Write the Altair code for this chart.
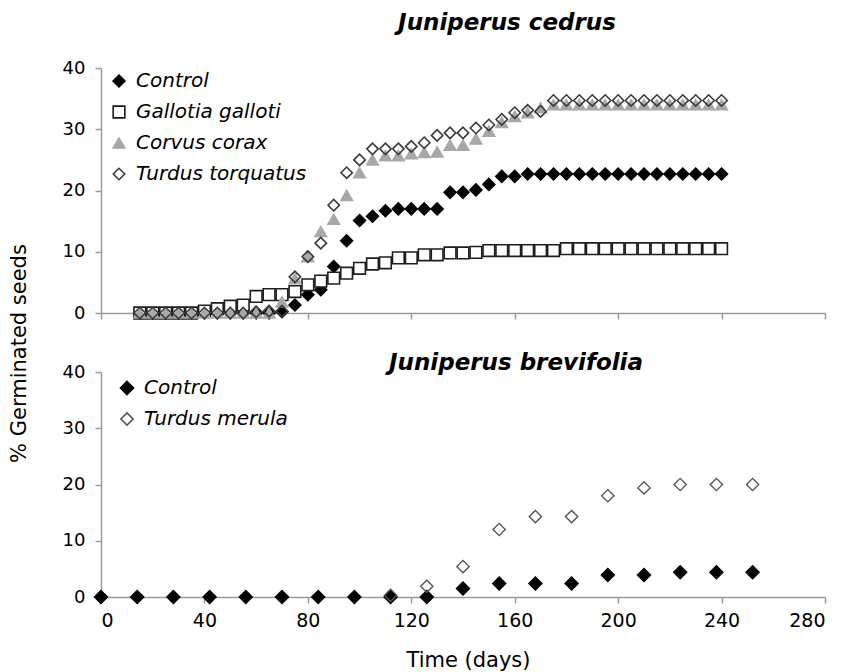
import altair as alt
import pandas as pd

# ---------------- data ----------------
panel_titles = ["Juniperus cedrus", "Juniperus brevifolia"]
x_ticks = [0, 40, 80, 120, 160, 200, 240, 280]
y_ticks = [0, 10, 20, 30, 40]

# Juniperus cedrus (top panel)
days_top = [15, 20, 25, 30, 35, 40, 45, 50, 55, 60, 65, 70, 75, 80, 85, 90,
            95, 100, 105, 110, 115, 120, 125, 130, 135, 140, 145, 150, 155,
            160, 165, 170, 175, 180, 185, 190, 195, 200, 205, 210, 215, 220,
            225, 230, 235, 240]
top_series = ["Control", "Gallotia galloti", "Corvus corax", "Turdus torquatus"]
control_top = [0, 0, 0, 0, 0, 0, 0, 0, 0, 0, 0, 0.2, 1.3, 3.0, 3.8, 7.6,
               11.8, 15.1, 15.8, 16.7, 17.0, 17.0, 17.0, 17.0, 19.7, 19.7, 20.1, 21.0, 22.3,
               22.3, 22.7, 22.7, 22.7, 22.7, 22.7, 22.7, 22.7, 22.7, 22.7, 22.7, 22.7, 22.7,
               22.7, 22.7, 22.7, 22.7]
gallotia_top = [0, 0, 0, 0, 0, 0.3, 0.7, 1.1, 1.3, 2.7, 3.0, 3.0, 3.5, 4.6, 5.2, 5.7,
                6.5, 7.3, 8.0, 8.2, 9.0, 9.0, 9.5, 9.5, 9.8, 9.8, 9.9, 10.2, 10.2,
                10.2, 10.2, 10.2, 10.2, 10.5, 10.5, 10.5, 10.5, 10.5, 10.5, 10.5, 10.5, 10.5,
                10.5, 10.5, 10.5, 10.5]
corvus_top = [0, 0, 0, 0, 0, 0, 0, 0, 0, 0, 0, 1.8, 5.6, 9.2, 13.3, 15.3,
              19.2, 22.9, 25.0, 25.7, 25.7, 26.0, 26.2, 26.3, 27.4, 27.4, 28.4, 29.7, 31.1,
              32.1, 32.7, 33.5, 34.0, 34.0, 34.0, 34.0, 34.0, 34.0, 34.0, 34.0, 34.0, 34.0,
              34.0, 34.0, 34.0, 34.0]
torquatus_top = [0, 0, 0, 0, 0, 0, 0, 0, 0, 0.2, 0.3, 0.3, 5.9, 9.2, 11.4, 17.6,
                 22.9, 25.0, 26.8, 26.8, 26.8, 27.2, 27.8, 29.0, 29.4, 29.4, 30.2, 30.7, 31.6,
                 32.7, 33.1, 32.9, 34.7, 34.7, 34.7, 34.7, 34.7, 34.7, 34.7, 34.7, 34.7, 34.7,
                 34.7, 34.7, 34.7, 34.7]

# Juniperus brevifolia (bottom panel)
bottom_series = ["Control", "Turdus merula"]
days_control_bot = [0, 14, 28, 42, 56, 70, 84, 98, 112, 126, 140, 154, 168, 182,
                    196, 210, 224, 238, 252]
control_bot = [0, 0, 0, 0, 0, 0, 0, 0, 0, 0, 1.5, 2.4, 2.4, 2.4, 3.9, 3.9, 4.4, 4.4, 4.4]
days_merula_bot = [112, 126, 140, 154, 168, 182, 196, 210, 224, 238, 252]
merula_bot = [0.3, 1.9, 5.4, 12.0, 14.3, 14.3, 18.0, 19.4, 20.0, 20.0, 20.0]

# ---------------- tables ----------------
top_rows = []
for name, vals in zip(top_series, [control_top, gallotia_top, corvus_top, torquatus_top]):
    for d, v in zip(days_top, vals):
        top_rows.append({"day": d, "pct": v, "series": name})
df_top = pd.DataFrame(top_rows)

bot_rows = []
for d, v in zip(days_control_bot, control_bot):
    bot_rows.append({"day": d, "pct": v, "series2": "Control"})
for d, v in zip(days_merula_bot, merula_bot):
    bot_rows.append({"day": d, "pct": v, "series2": "Turdus merula"})
df_bot = pd.DataFrame(bot_rows)

FONT = "DejaVu Sans"
AX_GRAY = "#9a9a9a"
PW = 724

x_scale = alt.Scale(domain=[0, 280], nice=False, zero=False)
y_scale = alt.Scale(domain=[0, 40], nice=False, zero=False)

def legend(x, y, rowpad):
    return alt.Legend(orient="none", legendX=x, legendY=y, title=None,
                      labelFont=FONT, labelFontStyle="italic", labelFontSize=20,
                      labelColor="black", rowPadding=rowpad, labelOffset=7,
                      labelLimit=0, padding=0, symbolStrokeWidth=1.6)

# ---------------- top panel ----------------
leg_top = legend(8, 3, 11)
top_points = alt.Chart(df_top).mark_point(filled=True, opacity=1, strokeWidth=1.6).encode(
    x=alt.X("day:Q", scale=x_scale,
            axis=alt.Axis(values=x_ticks, labels=False, title=None, grid=False,
                          domainColor=AX_GRAY, tickColor=AX_GRAY, domainWidth=1.5,
                          tickWidth=1.5, tickSize=6)),
    y=alt.Y("pct:Q", scale=y_scale,
            axis=alt.Axis(values=y_ticks, grid=False, title="% Germinated seeds",
                          titleX=-82, titleY=285, titleAngle=270, titleAlign="center",
                          titleBaseline="middle", titleFontSize=21, titleFontWeight="normal",
                          labelFontSize=18, labelPadding=10, tickSize=6,
                          domainColor=AX_GRAY, tickColor=AX_GRAY, domainWidth=1.5,
                          tickWidth=1.5)),
    shape=alt.Shape("series:N", scale=alt.Scale(domain=top_series,
                    range=["diamond", "square", "triangle-up", "diamond"]), legend=leg_top),
    fill=alt.Fill("series:N", scale=alt.Scale(domain=top_series,
                  range=["black", "white", "#a8a8a8", "transparent"]), legend=leg_top),
    stroke=alt.Stroke("series:N", scale=alt.Scale(domain=top_series,
                      range=["black", "#1e1e1e", "#a8a8a8", "#3a3a3a"]), legend=leg_top),
    size=alt.Size("series:N", scale=alt.Scale(domain=top_series,
                  range=[140, 130, 90, 140]), legend=leg_top),
)
top_title = alt.Chart(pd.DataFrame({"t": [panel_titles[0]]})).mark_text(
    font=FONT, fontSize=23, fontWeight="bold", fontStyle="italic",
    align="center", baseline="middle", color="black"
).encode(x=alt.value(406), y=alt.value(-45), text="t:N")

top = alt.layer(top_points, top_title).properties(width=PW, height=245)

# ---------------- bottom panel ----------------
leg_bot = legend(16, 6, 11)
bot_points = alt.Chart(df_bot).mark_point(filled=True, opacity=1, strokeWidth=1.4).encode(
    x=alt.X("day:Q", scale=x_scale,
            axis=alt.Axis(values=x_ticks, grid=False, title="Time (days)",
                          titleX=367, titleY=63, titleAlign="center", titleBaseline="middle",
                          titleFontSize=21, titleFontWeight="normal",
                          labelFontSize=19, labelPadding=8, tickSize=6,
                          domainColor=AX_GRAY, tickColor=AX_GRAY, domainWidth=1.5,
                          tickWidth=1.5)),
    y=alt.Y("pct:Q", scale=y_scale,
            axis=alt.Axis(values=y_ticks, grid=False, title=None,
                          labelFontSize=18, labelPadding=10, tickSize=6,
                          domainColor=AX_GRAY, tickColor=AX_GRAY, domainWidth=1.5,
                          tickWidth=1.5)),
    shape=alt.Shape("series2:N", scale=alt.Scale(domain=bottom_series,
                    range=["diamond", "diamond"]), legend=leg_bot),
    fill=alt.Fill("series2:N", scale=alt.Scale(domain=bottom_series,
                  range=["black", "transparent"]), legend=leg_bot),
    stroke=alt.Stroke("series2:N", scale=alt.Scale(domain=bottom_series,
                      range=["black", "#555555"]), legend=leg_bot),
    size=alt.Size("series2:N", scale=alt.Scale(domain=bottom_series,
                  range=[170, 150]), legend=leg_bot),
)
bot_title = alt.Chart(pd.DataFrame({"t": [panel_titles[1]]})).mark_text(
    font=FONT, fontSize=23, fontWeight="bold", fontStyle="italic",
    align="center", baseline="middle", color="black"
).encode(x=alt.value(415), y=alt.value(-9), text="t:N")

bottom = alt.layer(bot_points, bot_title).properties(width=PW, height=225)

chart = alt.vconcat(top, bottom, spacing=59, bounds="flush").resolve_scale(
    shape="independent", fill="independent", stroke="independent", size="independent"
).resolve_legend(
    shape="independent", fill="independent", stroke="independent", size="independent"
).properties(
    padding={"left": 0, "top": 4, "right": 5, "bottom": 5}
).configure_view(stroke=None).configure_axis(
    labelFont=FONT, titleFont=FONT, labelColor="black", titleColor="black"
)

chart.save("out.html", embed_options={"renderer": "svg", "actions": False})
